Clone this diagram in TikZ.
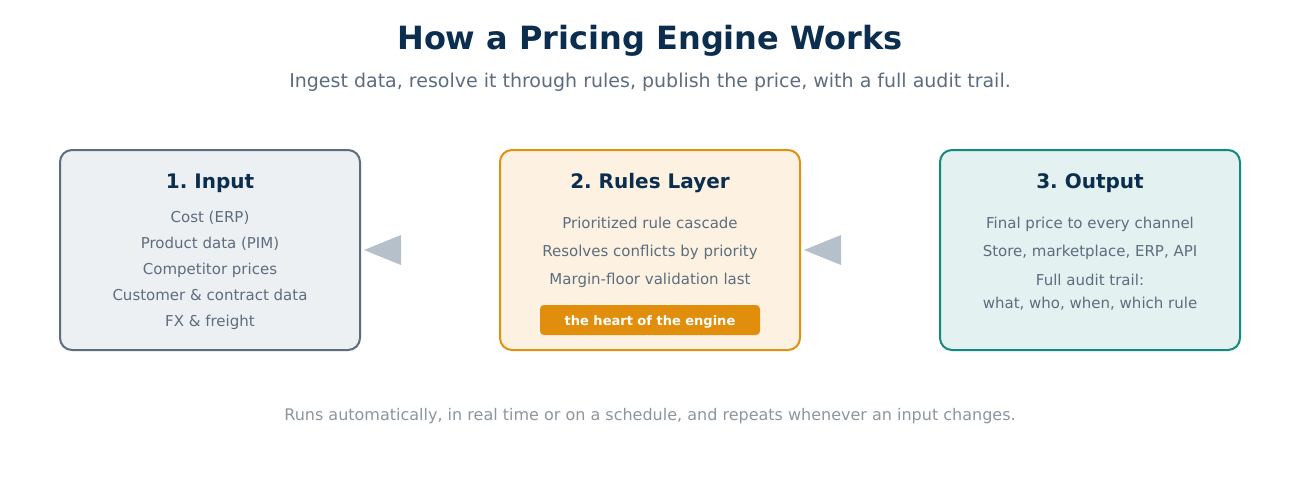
\documentclass[tikz,border=0pt]{standalone}
\usepackage{fontspec}
\setmainfont{DejaVu Sans}
\frenchspacing
\definecolor{navy}{HTML}{0B2D4E}
\definecolor{bodytxt}{HTML}{5D6D7E}
\definecolor{foottxt}{HTML}{8C96A0}
\definecolor{inbord}{HTML}{5D6D7E}
\definecolor{infill}{HTML}{ECF0F3}
\definecolor{rubord}{HTML}{E29012}
\definecolor{rufill}{HTML}{FDF2E1}
\definecolor{outbord}{HTML}{138A7E}
\definecolor{outfill}{HTML}{E3F1F0}
\definecolor{tri}{HTML}{B6C0CA}
\definecolor{badge}{HTML}{E08E0B}
\tikzset{
  card/.style={draw, line width=2pt, rounded corners=12pt, minimum width=300pt, minimum height=200pt, inner sep=0pt},
  head/.style={anchor=mid, font=\fontsize{20}{22}\selectfont\bfseries, text=navy},
  item/.style={anchor=mid, font=\fontsize{15}{17}\selectfont, text=bodytxt},
  flowtri/.style={fill=tri, draw=none},
}
\begin{document}
\begin{tikzpicture}[x=1pt,y=-1pt]
\useasboundingbox (0,0) rectangle (1300,500);
\fill[white] (0,0) rectangle (1300,500);
\node[anchor=mid, font=\fontsize{32}{36}\selectfont\bfseries, text=navy] (title) at (650,47) {How a Pricing Engine Works};
\node[anchor=mid, font=\fontsize{19}{21}\selectfont, text=bodytxt] (sub) at (650,85) {Ingest data, resolve it through rules, publish the price, with a full audit trail.};

\node[card, draw=inbord, fill=infill] (inp) at (210,250) {};
\node[card, draw=rubord, fill=rufill] (rul) at (650,250) {};
\node[card, draw=outbord, fill=outfill] (out) at (1090,250) {};

\node[head] (h1) at (210,186) {1. Input};
\node[item] (i1) at (210,220) {Cost (ERP)};
\node[item] (i2) at (210,246) {Product data (PIM)};
\node[item] (i3) at (210,272) {Competitor prices};
\node[item] (i4) at (210,298) {Customer \& contract data};
\node[item] (i5) at (210,324) {FX \& freight};

\node[head] (h2) at (650,186) {2. Rules Layer};
\node[item] (r1) at (650,226) {Prioritized rule cascade};
\node[item] (r2) at (650,254) {Resolves conflicts by priority};
\node[item] (r3) at (650,282) {Margin-floor validation last};
\node[fill=badge, rounded corners=4pt, minimum width=220pt, minimum height=30pt, inner sep=0pt] (bdg) at (650,320) {};
\node[anchor=mid, font=\fontsize{13}{15}\selectfont\bfseries, text=white] (bdgt) at (650,323) {the heart of the engine};

\node[head] (h3) at (1090,186) {3. Output};
\node[item] (o1) at (1090,226) {Final price to every channel};
\node[item] (o2) at (1090,254) {Store, marketplace, ERP, API};
\node[item] (o3) at (1090,283) {Full audit trail:};
\node[item] (o4) at (1090,306) {what, who, when, which rule};

\coordinate (t1) at ([xshift=3pt]inp.east);
\coordinate (t2) at ([xshift=3pt]rul.east);
\fill[flowtri] (t1) -- ++(37,-15) -- ++(0,30) -- cycle;
\fill[flowtri] (t2) -- ++(37,-15) -- ++(0,30) -- cycle;

\node[anchor=mid, font=\fontsize{16}{18}\selectfont, text=foottxt] (foot) at (650,418) {Runs automatically, in real time or on a schedule, and repeats whenever an input changes.};
\end{tikzpicture}
\end{document}
